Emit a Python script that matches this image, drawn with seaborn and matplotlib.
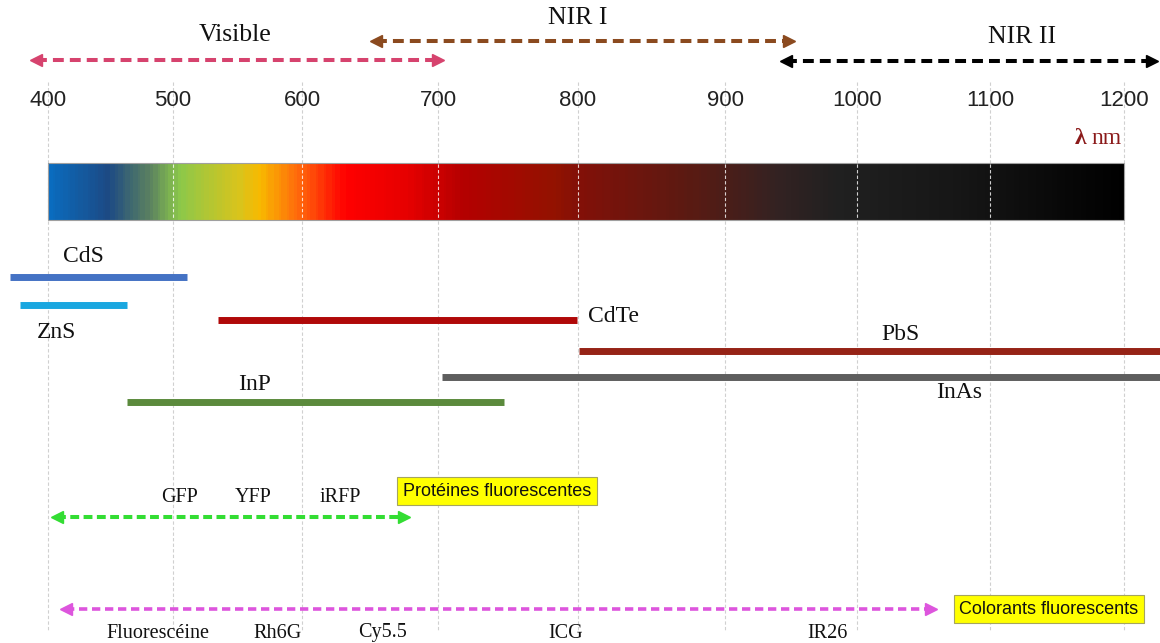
import numpy as np
import pandas as pd
import matplotlib
matplotlib.use('Agg')
import matplotlib.pyplot as plt
import matplotlib.transforms as mtransforms
from matplotlib.colors import LinearSegmentedColormap
from matplotlib.patches import Rectangle
import seaborn as sns

# %%
# wavelength ticks (nm) and where the drawing puts them (its axis is not quite linear)
ticks = [400, 500, 600, 700, 800, 900, 1000, 1100, 1200]
tick_px = [48, 173, 302, 438, 578, 725, 857, 990, 1124]

# spectral windows
regions = ['Visible', 'NIR I', 'NIR II']
region_start = [386, 650, 942]
region_end = [704, 953, 1225]
region_label_nm = [548, 800, 1124]
region_colors = ['#d6436e', '#8b4a1f', '#000000']

# quantum dot emission ranges (nm)
materials = ['CdS', 'ZnS', 'CdTe', 'PbS', 'InAs', 'InP']
mat_start = [370, 378, 535, 801, 703, 463]
mat_end = [511, 463, 799, 1240, 1240, 747]
mat_label_nm = [428, 407, 807, 1033, 1077, 563]
mat_colors = ['#4472c4', '#1aa7e0', '#b00808', '#962316', '#5e5e5e', '#5b8a3c']

# fluorescent proteins and dyes
proteins = ['GFP', 'YFP', 'iRFP']
protein_nm = [505, 562, 628]
protein_range = [403, 679]
dyes = ['Fluorescéine', 'Rh6G', 'Cy5.5', 'ICG', 'IR26']
dye_nm = [488, 581, 659, 791, 978]
dye_range = [410, 1060]

# colour stops of the spectrum bar
spec_nm = [400, 447, 480, 504, 550, 567, 596, 631, 677, 718, 784, 801, 876, 940, 986, 1077, 1200]
spec_col = ['#0a6cbf', '#1c4a84', '#5a8060', '#8cc84a', '#d8c41c', '#f8b800', '#ff6a0c',
            '#ff0000', '#e60000', '#b40000', '#921200', '#821008', '#5a1a12', '#332222',
            '#202020', '#161616', '#000000']

# vertical layout (pixels from top)
region_rows = [60, 41, 61]
region_label_rows = [35, 18, 37]
mat_rows = [277, 305, 320, 351, 377, 402]
mat_label_rows = [257, 333, 317, 335, 393, 385]

# %%
knot_nm = [300] + ticks + [1300]
knot_px = [tick_px[0] - 125] + tick_px + [tick_px[-1] + 134]


def fwd(x):
    return np.interp(x, knot_nm, knot_px)


def inv(p):
    return np.interp(p, knot_px, knot_nm)


sns.set_theme(style='white')
serif = 'Liberation Serif'
sans = 'Liberation Sans'

fig = plt.figure(figsize=(11.6, 6.43), dpi=100)
ax = fig.add_axes([0, 0, 1, 1])
ax.set_xscale('function', functions=(fwd, inv))

# grid lines
ax.vlines(ticks, 82, 630, colors='#d0d0d0', linestyles=(0, (3, 2)), lw=0.8, zorder=0)

# spectrum bar
pos = [(v - 400) / 800 for v in spec_nm]
cmap = LinearSegmentedColormap.from_list('spec', list(zip(pos, spec_col)))
grid = np.linspace(400, 1200, 401)
vals = ((grid[:-1] + grid[1:]) / 2 - 400) / 800
ax.pcolormesh(grid, [163, 220], vals[None, :], cmap=cmap, vmin=0, vmax=1,
              shading='flat', edgecolors='face', lw=0, zorder=1)
ax.add_patch(Rectangle((400, 163), 800, 57, fill=False, ec='#a0a0a0', lw=0.8, zorder=2))
ax.vlines(ticks[1:-1], 164, 219, colors='white', linestyles=(0, (3, 2)), lw=0.8,
          alpha=0.8, zorder=2)

# tick labels
for t in ticks:
    ax.text(t, 100, str(t), ha='center', va='center', fontsize=16, family=sans, color='#222222')

ax.text(inv(1086), 138, 'λ', ha='right', va='center', fontsize=17, family=serif,
        weight='bold', color='#8b1a1a')
ax.text(inv(1122), 138, 'nm', ha='right', va='center', fontsize=17, family=serif,
        color='#8b1a1a')


def arrow(x0, x1, y, color, lw, dashes, ms):
    # arrow tips sit on x0 / x1, heads drawn as triangle markers
    half_px = ms / 2 * 100 / 72
    ax.plot([inv(fwd(x0) + half_px), inv(fwd(x1) - half_px)], [y, y], color=color, lw=lw,
            dashes=dashes, zorder=3)
    left = mtransforms.offset_copy(ax.transData, fig=fig, x=ms / 2, units='points')
    right = mtransforms.offset_copy(ax.transData, fig=fig, x=-ms / 2, units='points')
    ax.plot([x0], [y], marker='<', ms=ms, color=color, mec=color, transform=left, zorder=3)
    ax.plot([x1], [y], marker='>', ms=ms, color=color, mec=color, transform=right, zorder=3)


# spectral windows
for name, s, e, c, r, lx, lr in zip(regions, region_start, region_end, region_colors,
                                    region_rows, region_label_nm, region_label_rows):
    arrow(s, e, r, c, 2.9, (2.7, 1.5), 8)
    ax.text(lx, lr, name, ha='center', va='center', fontsize=18.5, family=serif, color='#111111')

# quantum dots
seg = pd.DataFrame({
    'material': materials * 2,
    'nm': mat_start + mat_end,
    'row': mat_rows * 2,
})
sns.lineplot(data=seg, x='nm', y='row', hue='material', units='material', estimator=None,
             palette=dict(zip(materials, mat_colors)), lw=5, legend=False,
             solid_capstyle='butt', sort=True, ax=ax, zorder=3)
for name, lx, lr in zip(materials, mat_label_nm, mat_label_rows):
    ha = 'left' if name == 'CdTe' else 'center'
    ax.text(lx, lr, name, ha=ha, va='center', fontsize=17, family=serif, color='#111111')

# proteins
arrow(protein_range[0], protein_range[1], 517, '#33dd33', 2.9, (2.2, 1.1), 8)
for name, lx in zip(proteins, protein_nm):
    ax.text(lx, 497, name, ha='center', va='center', fontsize=14.5, family=serif, color='#111111')
ax.text(inv(497), 491, 'Protéines fluorescentes', ha='center', va='center', fontsize=13,
        family=sans, color='#111111',
        bbox=dict(boxstyle='square,pad=0.3', fc='#ffff00', ec='#a5a560', lw=0.8))

# dyes
arrow(dye_range[0], dye_range[1], 609, '#dd55dd', 2.6, (2.3, 1.3), 8)
for name, lx in zip(dyes, dye_nm):
    ax.text(lx, 633, name, ha='center', va='center', fontsize=14.5, family=serif, color='#111111')
ax.text(inv(1049), 609, 'Colorants fluorescents', ha='center', va='center', fontsize=13,
        family=sans, color='#111111',
        bbox=dict(boxstyle='square,pad=0.3', fc='#ffff00', ec='#a5a560', lw=0.8))

ax.set_xlim(inv(0), inv(1160))
ax.set_ylim(643, 0)
ax.axis('off')

fig.savefig('out.png', dpi=100, facecolor='white')
